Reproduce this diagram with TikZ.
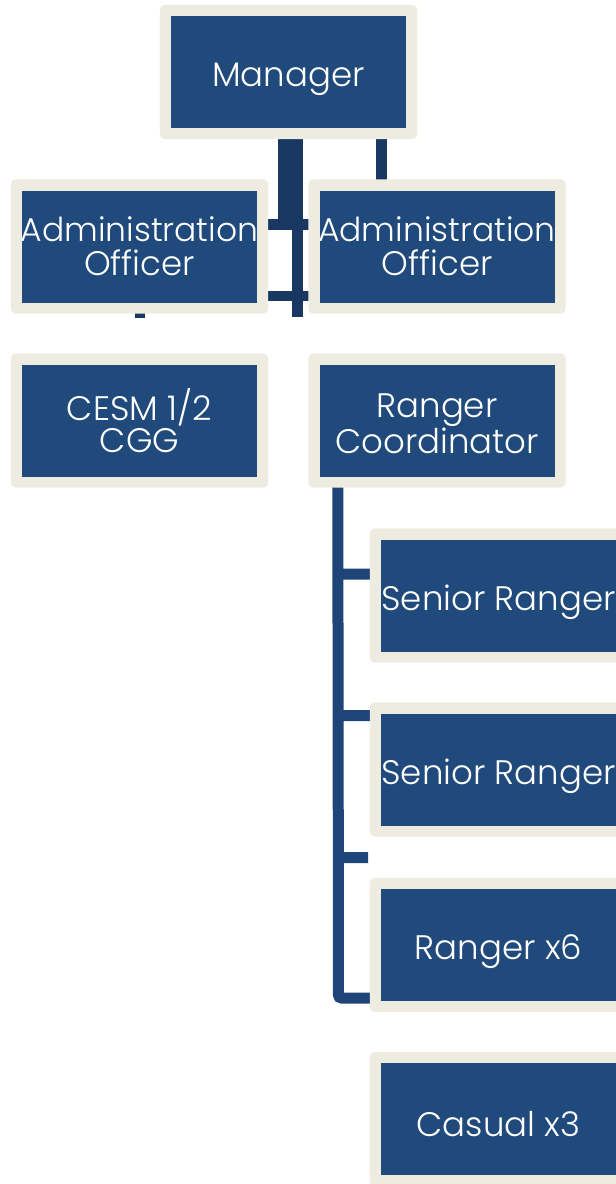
\documentclass[tikz,border=0pt]{standalone}
\usepackage{fontspec}
\setmainfont{Poppins}[UprightFont=* Light]
\usetikzlibrary{backgrounds,calc}
\definecolor{boxblue}{RGB}{33,74,124}
\definecolor{cream}{RGB}{238,236,225}
\definecolor{darkconn}{RGB}{24,56,98}
\definecolor{conn}{RGB}{30,68,120}
\newcommand{\lowertext}[2][7pt]{\raisebox{-#1}[\height][\depth]{#2}}
\newcommand{\widetext}[1]{\makebox[235pt]{\fontsize{33}{34}\selectfont #1}}
\tikzset{
  x=1pt,y=-1pt,
  orgbox/.style={fill=boxblue, text=white, minimum width=235pt, minimum height=112pt,
    inner sep=0pt, align=center, font=\fontsize{34}{34}\selectfont},
  topline/.style={draw=darkconn},
  rcline/.style={draw=conn, line width=11pt},
}
\begin{document}
\begin{tikzpicture}
\useasboundingbox (0,0) rectangle (616,1184);
\clip (0,0) rectangle (616,1184);
\node[orgbox] (man)  at (288.5,72)    {\lowertext{Manager}};
\node[orgbox] (adl)  at (139.5,246.5) {\widetext{Administration}\\Officer};
\node[orgbox] (adr)  at (437,246.5)   {\widetext{Administration}\\Officer};
\node[orgbox] (cesm) at (139.5,420.5) {CESM 1/2\\[-2pt]CGG};
\node[orgbox] (rc)   at (437,420.5)   {\lowertext[3pt]{Ranger}\\\lowertext[3pt]{Coordinator}};
\node[orgbox] (sr1)  at (498.5,595.5) {\lowertext{Senior Ranger}};
\node[orgbox] (sr2)  at (498.5,769.5) {\lowertext{Senior Ranger}};
\node[orgbox] (rng)  at (498.5,945)   {\lowertext{Ranger x6}};
\node[orgbox] (cas)  at (498.5,1119)  {\lowertext[5pt]{Casual x3}};
\coordinate (free) at (368,857.5);
\begin{scope}[on background layer]
  \fill[white] (0,0) rectangle (616,1184);
  % connectors (behind the cream frames)
  \draw[topline, line width=25pt] ([xshift=2pt]man.south) -- ([xshift=2pt]man.south |- 0,219);
  \draw[topline, line width=11pt] (adl.east |- 0,224.5) -- (adr.west |- 0,224.5);
  \draw[topline, line width=11pt] (297.5,219) -- (297.5,317);
  \draw[topline, line width=10.5pt] (adl.east |- 0,296) -- (adr.west |- 0,296);
  \draw[topline, line width=10pt] (adl.south) -- ([yshift=-15pt]adl.south);
  \draw[topline, line width=11pt] ([xshift=-55.5pt]adr.north |- man.south) -- ([xshift=-55.5pt]adr.north);
  \draw[rcline, rounded corners=3pt] ([xshift=18.5pt]rc.south west) -- (338.5,998) -- (rng.west |- 0,998)
    (338.5,574) -- (sr1.west |- 0,574)
    (338.5,715.5) -- (sr2.west |- 0,715.5)
    (338.5,857.5) -- (free);
  % cream frames
  \foreach \n in {man,adl,adr,cesm,rc,sr1,sr2,rng,cas}
    \fill[cream, rounded corners=5pt] ([shift={(-11pt,11pt)}]\n.north west) rectangle ([shift={(11pt,-11pt)}]\n.south east);
\end{scope}
\end{tikzpicture}
\end{document}
